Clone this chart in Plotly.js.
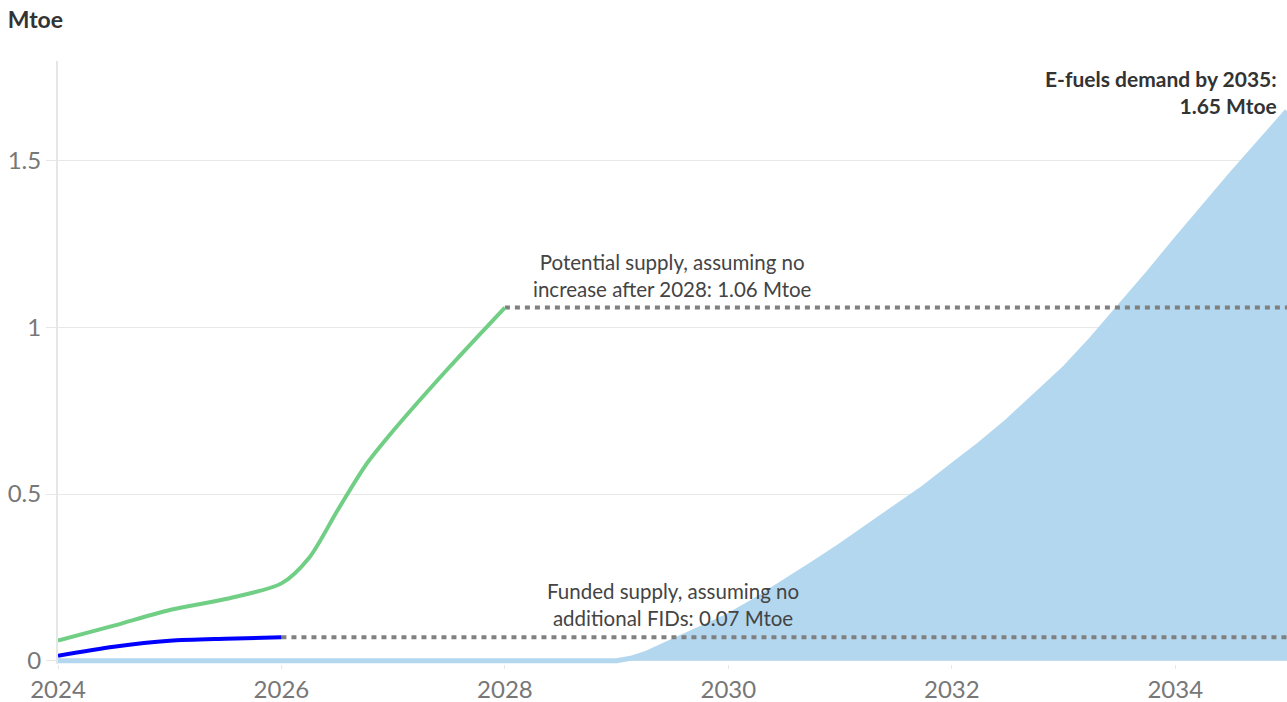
<!DOCTYPE html>
<html>
<head>
<meta charset="utf-8">
<script src="https://cdn.plot.ly/plotly-3.0.1.min.js"></script>
<style>html,body{margin:0;padding:0;background:#fff;}#chart{width:1287px;height:702px;}</style>
</head>
<body>
<div id="chart"></div>
<script>
// Demand (area)
const demandYears = [2024, 2025, 2026, 2027, 2028, 2029, 2029.125, 2029.25, 2029.5, 2029.75, 2030, 2030.25, 2030.5, 2030.75, 2031, 2031.25, 2031.5, 2031.75, 2032, 2032.25, 2032.5, 2032.75, 2033, 2033.25, 2033.5, 2033.75, 2034, 2034.25, 2034.5, 2034.75, 2035];
const demandValues = [0, 0, 0, 0, 0, 0, 0.007, 0.02, 0.058, 0.095, 0.135, 0.183, 0.235, 0.29, 0.345, 0.402, 0.46, 0.52, 0.585, 0.65, 0.72, 0.795, 0.875, 0.965, 1.06, 1.16, 1.262, 1.362, 1.46, 1.555, 1.65];

// Potential supply (green)
const potentialYears = [2024, 2024.5, 2025, 2025.5, 2026, 2026.25, 2026.5, 2026.75, 2027, 2027.5, 2028];
const potentialValues = [0.06, 0.105, 0.152, 0.185, 0.232, 0.31, 0.45, 0.585, 0.69, 0.88, 1.06];

// Funded supply (blue)
const fundedYears = [2024, 2024.5, 2025, 2025.5, 2026];
const fundedValues = [0.015, 0.042, 0.06, 0.066, 0.07];

// Flat extensions (dotted)
const potentialFlatYears = [2028, 2035];
const potentialFlatValues = [1.06, 1.06];
const fundedFlatYears = [2026, 2035];
const fundedFlatValues = [0.07, 0.07];

const xTicks = [2024, 2026, 2028, 2030, 2032, 2034];
const yTicks = [0, 0.5, 1, 1.5];
const yTickLabels = ['0', '0.5', '1', '1.5'];

const potentialLabel = 'Potential supply, assuming no<br>increase after 2028: 1.06 Mtoe';
const fundedLabel = 'Funded supply, assuming no<br>additional FIDs: 0.07 Mtoe';
const demandLabel = '<b>E-fuels demand by 2035:<br>1.65 Mtoe</b>';
const unitLabel = '<b>Mtoe</b>';

const FONT = 'Lato, "Source Sans Pro", "Noto Sans", sans-serif';

const traces = [
  {x: demandYears, y: demandValues, type: 'scatter', mode: 'lines', fill: 'tozeroy',
   fillcolor: '#b3d7ee', line: {color: '#b3d7ee', width: 5}, hoverinfo: 'skip'},
  {x: fundedFlatYears, y: fundedFlatValues, type: 'scatter', mode: 'lines',
   line: {color: '#808080', width: 4, dash: '5px,5px'}, hoverinfo: 'skip'},
  {x: potentialFlatYears, y: potentialFlatValues, type: 'scatter', mode: 'lines',
   line: {color: '#808080', width: 4, dash: '5px,5px'}, hoverinfo: 'skip'},
  {x: potentialYears, y: potentialValues, type: 'scatter', mode: 'lines',
   line: {color: '#70cf84', width: 4, shape: 'spline', smoothing: 0.8}},
  {x: fundedYears, y: fundedValues, type: 'scatter', mode: 'lines',
   line: {color: '#0000ff', width: 4, shape: 'spline', smoothing: 0.8}}
];

const layout = {
  width: 1287, height: 702,
  margin: {l: 58, r: 0, t: 61, b: 38},
  paper_bgcolor: '#ffffff', plot_bgcolor: '#ffffff',
  showlegend: false,
  font: {family: FONT, color: '#444'},
  title: {text: unitLabel, x: 0.006, xref: 'container', xanchor: 'left',
          y: 0.971, yref: 'container', yanchor: 'middle',
          font: {family: FONT, size: 23, color: '#333'}},
  xaxis: {range: [2024, 2035], tickvals: xTicks, ticktext: xTicks.map(String),
          showgrid: false, zeroline: false, showline: false,
          ticks: 'outside', ticklen: 4, tickcolor: '#e6e6e6', tickwidth: 1,
          tickfont: {family: FONT, size: 24, color: '#777'}, fixedrange: true},
  yaxis: {range: [-0.01, 1.8], tickvals: yTicks, ticktext: yTickLabels,
          showgrid: true, gridcolor: '#e8e8e8', gridwidth: 1, zeroline: false,
          showline: true, linecolor: '#e6e6e6', linewidth: 2,
          ticks: 'outside', ticklen: 10, tickcolor: '#e6e6e6', tickwidth: 1,
          tickfont: {family: FONT, size: 24, color: '#777'}, fixedrange: true},
  annotations: [
    {x: 2029.5, y: 1.06, xref: 'x', yref: 'y', text: potentialLabel, showarrow: false,
     xanchor: 'center', yanchor: 'bottom', yshift: 5, align: 'center',
     font: {family: FONT, size: 20.5, color: '#444'}},
    {x: 2029.5, y: 0.07, xref: 'x', yref: 'y', text: fundedLabel, showarrow: false,
     xanchor: 'center', yanchor: 'bottom', yshift: 5, align: 'center',
     font: {family: FONT, size: 20.5, color: '#444'}},
    {x: 2035, y: 1.65, xref: 'x', yref: 'y', text: demandLabel, showarrow: false,
     xanchor: 'right', yanchor: 'bottom', xshift: -8, yshift: -9, align: 'right',
     font: {family: FONT, size: 21, color: '#333'}}
  ]
};

Plotly.newPlot('chart', traces, layout, {displayModeBar: false, staticPlot: true});
</script>
</body>
</html>
